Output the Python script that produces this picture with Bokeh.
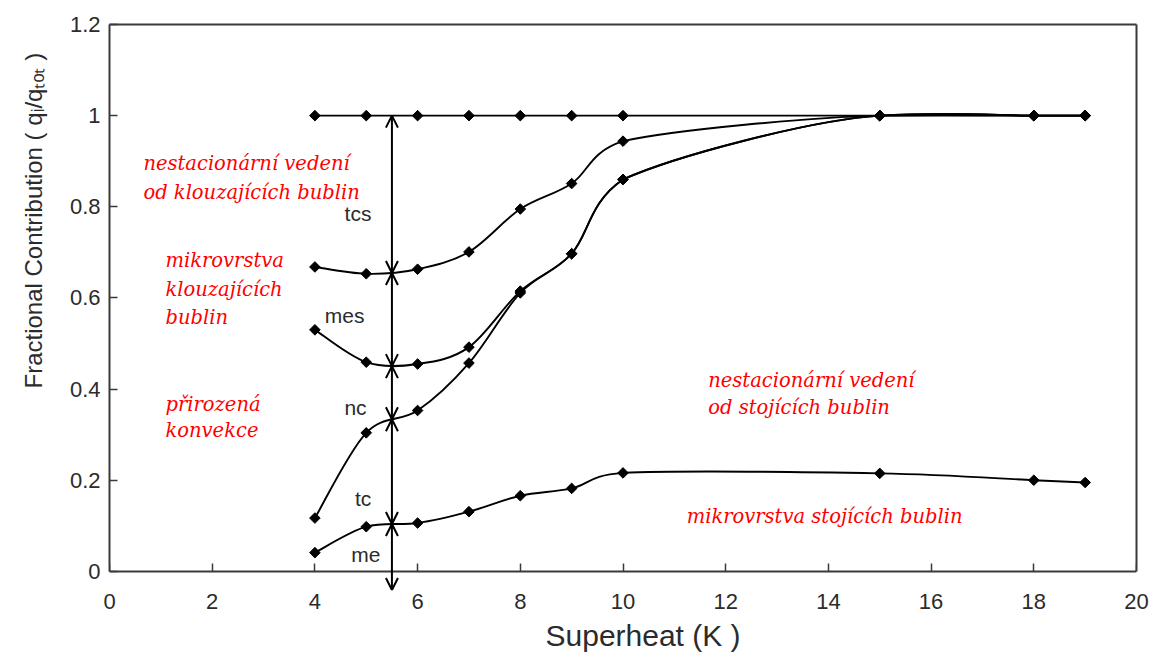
import numpy as np
from bokeh.plotting import figure
from bokeh.models import Range1d, Label, Arrow, OpenHead, LinearAxis, Title
from bokeh.embed import file_html
from bokeh.resources import INLINE

# Superheat values (K) at which the heat-flux partition was evaluated
superheat = [4, 5, 6, 7, 8, 9, 10, 15, 18, 19]

# Cumulative fractional contributions q_i/q_tot (upper boundary of each band)
me_top = [0.041, 0.098, 0.106, 0.131, 0.166, 0.182, 0.216, 0.215, 0.200, 0.195]
tc_top = [0.117, 0.304, 0.353, 0.457, 0.611, 0.697, 0.860, 1.0, 1.0, 1.0]
nc_top = [0.530, 0.459, 0.455, 0.492, 0.615, 0.697, 0.860, 1.0, 1.0, 1.0]
mes_top = [0.668, 0.653, 0.663, 0.701, 0.795, 0.851, 0.944, 1.0, 1.0, 1.0]
tcs_top = [1.0, 1.0, 1.0, 1.0, 1.0, 1.0, 1.0, 1.0, 1.0, 1.0]

band_names = ["tcs", "mes", "nc", "tc", "me"]

x_ticks = [0, 2, 4, 6, 8, 10, 12, 14, 16, 18, 20]
y_ticks = [0, 0.2, 0.4, 0.6, 0.8, 1.0, 1.2]
y_tick_labels = ["0", "0.2", "0.4", "0.6", "0.8", "1", "1.2"]

SANS = "Liberation Sans"
SERIF = "DejaVu Serif"
INK = "#2b2b2b"
FRAME = "#3a3a3a"


def tangents(xs, ys):
    n = len(xs)
    out = []
    for k in range(n):
        a, b = max(k - 1, 0), min(k + 1, n - 1)
        dx, dy = (xs[b] - xs[a]) / 6, (ys[b] - ys[a]) / 6
        if 0 < k < n - 1 and (ys[k] - ys[a]) * (ys[b] - ys[k]) == 0:
            dy *= 0.4  # ease into flat stretches
        out.append((dx, dy))
    return out


def smooth_segments(xs, ys):
    """Cubic Bezier pieces through the points (spreadsheet-style smoothing)."""
    tg = tangents(xs, ys)
    out = dict(x0=[], y0=[], x1=[], y1=[], cx0=[], cy0=[], cx1=[], cy1=[])
    for i in range(len(xs) - 1):
        cx0 = min(xs[i] + tg[i][0], xs[i + 1])
        cx1 = max(xs[i + 1] - tg[i + 1][0], cx0)
        out["x0"].append(xs[i]); out["y0"].append(ys[i])
        out["x1"].append(xs[i + 1]); out["y1"].append(ys[i + 1])
        out["cx0"].append(cx0); out["cy0"].append(ys[i] + tg[i][1])
        out["cx1"].append(cx1); out["cy1"].append(ys[i + 1] - tg[i + 1][1])
    return out


def mid_value(seg, k):
    """Curve height half way along segment k (x = 5.5 for the 5-6 K piece)."""
    return (0.125 * seg["y0"][k] + 0.375 * seg["cy0"][k]
            + 0.375 * seg["cy1"][k] + 0.125 * seg["y1"][k])


# The y range reaches a little below zero so the lowest arrow can poke out
# under the x axis line.
p = figure(width=1160, height=660,
           x_range=Range1d(0, 20), y_range=Range1d(-0.042, 1.2),
           output_backend="svg", toolbar_location=None,
           min_border_left=109, min_border_right=24,
           min_border_top=24, min_border_bottom=70)

p.grid.visible = False
p.outline_line_color = None
p.background_fill_color = "white"
p.border_fill_color = "white"


def style_ticks(ax):
    ax.axis_line_color = FRAME
    ax.axis_line_width = 2
    ax.major_tick_in = 8
    ax.major_tick_out = 0
    ax.major_tick_line_color = FRAME
    ax.major_tick_line_width = 1.5
    ax.minor_tick_line_color = None


# x axis line and ticks sit at y = 0 (no labels of its own)
xax = p.xaxis[0]
style_ticks(xax)
xax.fixed_location = 0
xax.ticker = x_ticks
xax.major_label_text_color = None
xax.major_label_text_font_size = "0px"
xax.major_label_standoff = 0

# x tick labels, placed under the frame
xlab = LinearAxis(ticker=x_ticks, axis_line_color=None, major_tick_line_color=None,
                  minor_tick_line_color=None, major_tick_in=0, major_tick_out=0,
                  major_label_standoff=3, major_label_text_font=SANS,
                  major_label_text_font_size="22px", major_label_text_color=INK)
p.add_layout(xlab, "below")

yax = p.yaxis[0]
style_ticks(yax)
yax.bounds = (0, 1.2)
yax.ticker = y_ticks
yax.major_label_overrides = {t: s for t, s in zip(y_ticks, y_tick_labels)}
yax.major_label_standoff = 9
yax.major_label_text_font = SANS
yax.major_label_text_font_size = "22px"
yax.major_label_text_color = INK

# Closing lines of the box on the top and right
for side, bounds in (("above", "auto"), ("right", (0, 1.2))):
    box_ax = LinearAxis(ticker=[], bounds=bounds, axis_line_color=FRAME,
                        axis_line_width=2, major_tick_line_color=None,
                        minor_tick_line_color=None, major_tick_out=0,
                        major_label_text_color=None,
                        major_label_text_font_size="0px")
    p.add_layout(box_ax, side)

# Axis titles
p.add_layout(Title(text="Superheat (K )", align="left", offset=436,
                   vertical_align="bottom", standoff=10, text_font=SANS,
                   text_font_size="30px", text_font_style="normal",
                   text_color=INK), "below")
p.add_layout(Title(text="Fractional Contribution ( qᵢ/qₜₒₜ )", align="left",
                   offset=202, vertical_align="top", standoff=36, text_font=SANS,
                   text_font_size="24px", text_font_style="normal",
                   text_color=INK), "left")

# Curves with diamond markers
curves = [tcs_top, mes_top, nc_top, tc_top, me_top]
segments = []
for ys in curves:
    seg = smooth_segments(superheat, ys)
    segments.append(seg)
    p.bezier(x0="x0", y0="y0", x1="x1", y1="y1", cx0="cx0", cy0="cy0",
             cx1="cx1", cy1="cy1", source=seg, line_color="black", line_width=1.9)
    p.scatter(superheat, ys, marker="square", angle=np.pi / 4, size=7.5,
              color="black")

# Double-headed arrows marking each band at 5.5 K
arrow_x = 5.5
levels = [mid_value(seg, 1) for seg in segments] + [-0.041]
for top, bottom in zip(levels[:-1], levels[1:]):
    p.add_layout(Arrow(x_start=arrow_x, y_start=top, x_end=arrow_x, y_end=bottom,
                       start=OpenHead(size=12, line_width=2, line_color="black"),
                       end=OpenHead(size=12, line_width=2, line_color="black"),
                       line_width=2, line_color="black"))

# Band names next to the arrows
band_pos = [(4.84, 0.786), (4.58, 0.562), (4.79, 0.359), (4.94, 0.159), (4.99, 0.036)]
for name, (bx, by) in zip(band_names, band_pos):
    p.add_layout(Label(x=bx, y=by, text=name, text_font=SANS, text_font_size="21px",
                       text_color=INK, text_align="center", text_baseline="middle"))

# Red descriptions of the heat transfer mechanisms
notes = [
    ("nestacionární vedení", 0.66, 0.896),
    ("od klouzajících bublin", 0.66, 0.832),
    ("mikrovrstva", 1.09, 0.682),
    ("klouzajících", 1.09, 0.619),
    ("bublin", 1.09, 0.557),
    ("přirozená", 1.09, 0.366),
    ("konvekce", 1.09, 0.309),
    ("nestacionární vedení", 11.66, 0.419),
    ("od stojících bublin", 11.66, 0.360),
    ("mikrovrstva stojících bublin", 11.24, 0.120),
]
for txt, nx, ny in notes:
    p.add_layout(Label(x=nx, y=ny, text=txt, text_font=SERIF, text_font_size="19.5px",
                       text_font_style="italic", text_color="#ff0000",
                       text_align="left", text_baseline="alphabetic"))

open("out.html", "w").write(file_html(p, INLINE))
